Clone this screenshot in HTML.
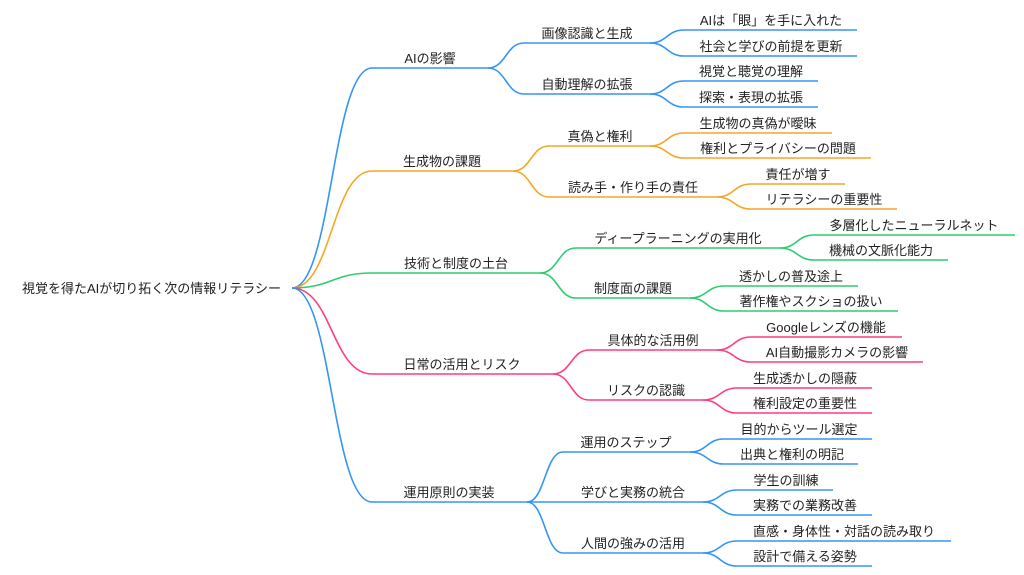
<!DOCTYPE html>
<html><head><meta charset="utf-8"><style>
html,body{margin:0;padding:0;background:#fff;}
svg{display:block;}
text{font-family:"Liberation Sans","Noto Sans CJK JP",sans-serif;font-size:13px;fill:#222;text-anchor:middle;}
path{fill:none;stroke-width:1.6;}
.b{stroke:#3395f5}.o{stroke:#f5a623}.g{stroke:#2ecc71}.p{stroke:#ff3d7f}
</style></head><body>
<svg width="1024" height="575" viewBox="0 0 1024 575">
<text x="281" y="293" style="text-anchor:end">視覚を得たAIが切り拓く次の情報リテラシー</text>
<!-- L1 -->
<path class="b" d="M292 288 C332 288,332 68,372 68 H488"/><text x="430" y="63">AIの影響</text>
<path class="o" d="M292 288 C332 288,332 171,372 171 H513"/><text x="442" y="166">生成物の課題</text>
<path class="g" d="M292 288 C332 288,332 273,372 273 H540"/><text x="456" y="268">技術と制度の土台</text>
<path class="p" d="M292 288 C332 288,332 374,372 374 H553"/><text x="462" y="369">日常の活用とリスク</text>
<path class="b" d="M292 288 C332 288,332 502,372 502 H527"/><text x="449" y="497">運用原則の実装</text>
<!-- L2 -->
<path class="b" d="M488 68 C506 68,506 43,524 43 H650"/><text x="587" y="38">画像認識と生成</text>
<path class="b" d="M488 68 C506 68,506 94,524 94 H650"/><text x="587" y="89">自動理解の拡張</text>
<path class="o" d="M513 171 C531 171,531 146,549 146 H650"/><text x="600" y="141">真偽と権利</text>
<path class="o" d="M513 171 C531 171,531 197,549 197 H717"/><text x="633" y="192">読み手・作り手の責任</text>
<path class="g" d="M540 273 C558 273,558 248,576 248 H780"/><text x="678" y="243">ディープラーニングの実用化</text>
<path class="g" d="M540 273 C558 273,558 298,576 298 H690"/><text x="633" y="293">制度面の課題</text>
<path class="p" d="M553 374 C571 374,571 350,589 350 H717"/><text x="653" y="345">具体的な活用例</text>
<path class="p" d="M553 374 C571 374,571 400,589 400 H703"/><text x="646" y="395">リスクの認識</text>
<path class="b" d="M527 502 C545 502,545 452,563 452 H690"/><text x="626" y="447">運用のステップ</text>
<path class="b" d="M527 502 C545 502,545 502,563 502 H703"/><text x="633" y="497">学びと実務の統合</text>
<path class="b" d="M527 502 C545 502,545 553,563 553 H703"/><text x="633" y="548">人間の強みの活用</text>
<!-- L3 -->
<path class="b" d="M650 43 C667 43,667 30,684 30 H857"/><text x="771" y="25">AIは「眼」を手に入れた</text>
<path class="b" d="M650 43 C667 43,667 56,684 56 H857"/><text x="771" y="51">社会と学びの前提を更新</text>
<path class="b" d="M650 94 C667 94,667 81,684 81 H818"/><text x="751" y="76">視覚と聴覚の理解</text>
<path class="b" d="M650 94 C667 94,667 107,684 107 H818"/><text x="751" y="102">探索・表現の拡張</text>
<path class="o" d="M650 146 C667 146,667 133,684 133 H832"/><text x="758" y="128">生成物の真偽が曖昧</text>
<path class="o" d="M650 146 C667 146,667 158,684 158 H871"/><text x="778" y="153">権利とプライバシーの問題</text>
<path class="o" d="M717 197 C734 197,734 184,751 184 H845"/><text x="798" y="179">責任が増す</text>
<path class="o" d="M717 197 C734 197,734 209,751 209 H897"/><text x="824" y="204">リテラシーの重要性</text>
<path class="g" d="M780 248 C797 248,797 235,814 235 H1015"/><text x="914" y="230">多層化したニューラルネット</text>
<path class="g" d="M780 248 C797 248,797 260,814 260 H948"/><text x="881" y="255">機械の文脈化能力</text>
<path class="g" d="M690 298 C707 298,707 286,724 286 H858"/><text x="791" y="281">透かしの普及途上</text>
<path class="g" d="M690 298 C707 298,707 311,724 311 H898"/><text x="811" y="306">著作権やスクショの扱い</text>
<path class="p" d="M717 350 C734 350,734 337,751 337 H902"/><text x="826" y="332">Googleレンズの機能</text>
<path class="p" d="M717 350 C734 350,734 362,751 362 H923"/><text x="837" y="357">AI自動撮影カメラの影響</text>
<path class="p" d="M703 400 C720 400,720 388,737 388 H872"/><text x="805" y="383">生成透かしの隠蔽</text>
<path class="p" d="M703 400 C720 400,720 413,737 413 H872"/><text x="805" y="408">権利設定の重要性</text>
<path class="b" d="M690 452 C707 452,707 439,724 439 H872"/><text x="799" y="434">目的からツール選定</text>
<path class="b" d="M690 452 C707 452,707 464,724 464 H858"/><text x="792" y="459">出典と権利の明記</text>
<path class="b" d="M703 502 C720 502,720 490,737 490 H833"/><text x="786" y="485">学生の訓練</text>
<path class="b" d="M703 502 C720 502,720 515,737 515 H872"/><text x="805" y="510">実務での業務改善</text>
<path class="b" d="M703 553 C720 553,720 541,737 541 H951"/><text x="844" y="536">直感・身体性・対話の読み取り</text>
<path class="b" d="M703 553 C720 553,720 566,737 566 H872"/><text x="805" y="561">設計で備える姿勢</text>
</svg>
</body></html>
